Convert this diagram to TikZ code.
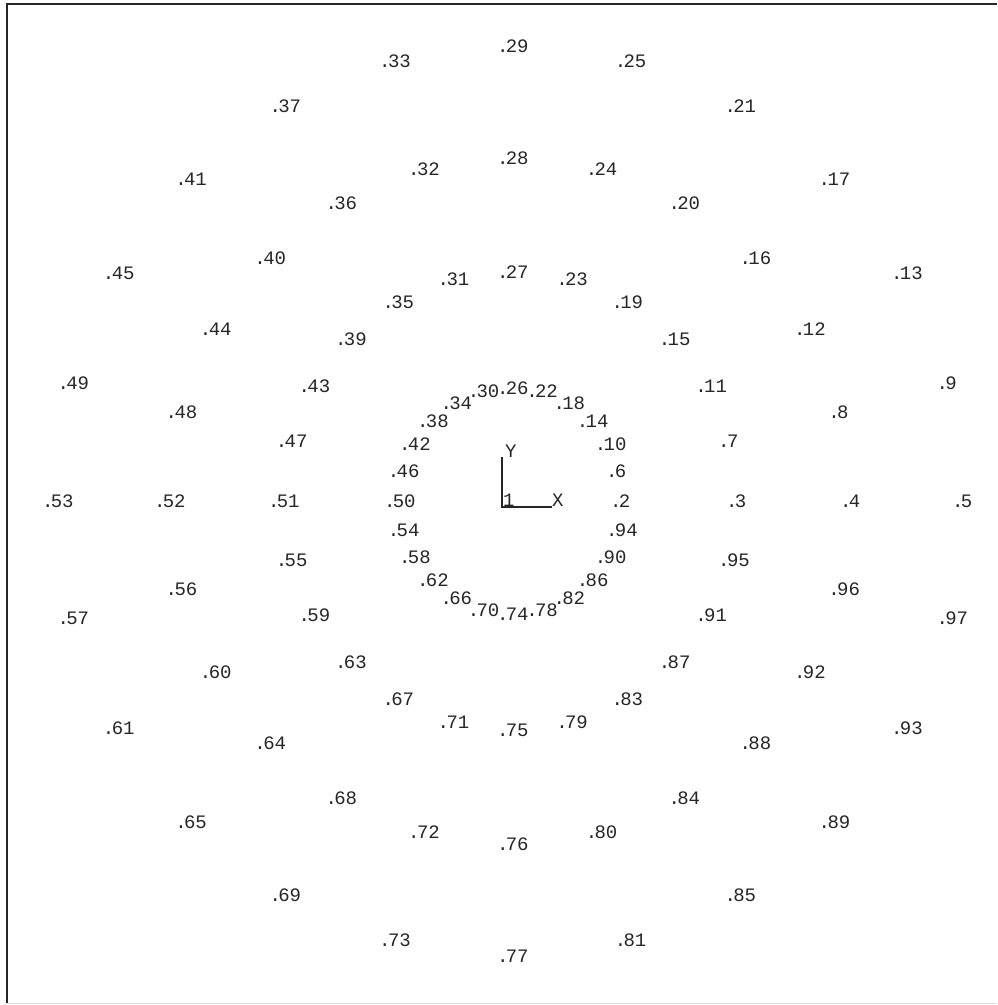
\documentclass[tikz,border=0pt]{standalone}
\usepackage{fontspec}
\newfontfamily\lblfont{Liberation Mono}
\begin{document}
\begin{tikzpicture}[x=1pt,y=-1pt,
  lbl/.style={font=\fontsize{19}{19}\selectfont\lblfont, anchor=base west, inner sep=0pt, text=black!85},
  frameline/.style={line width=2.4pt, black!85},
  axisline/.style={line width=1.6pt, black!85}]
\useasboundingbox (0,0) rectangle (997,1005);
\fill[white] (0,0) rectangle (997,1005);
% frame
\draw[frameline] (7,1003) -- (7,4) -- (997,4);
\draw[line width=1pt, black!12] (7,1003) -- (997,1003);
% centre node and axes
\coordinate (p1) at (502,507);
\coordinate (ytip) at (502,457);
\coordinate (xtip) at (552,507);
\draw[axisline] (ytip) -- (p1) -- (xtip);
\node[lbl] (n1) at (503,506) {1};
\node[lbl] (ylab) at (505,457) {Y};
\node[lbl] (xlab) at (552,506) {X};
% numbered nodes on four rings
\foreach \k in {2,...,97}{
  \pgfmathtruncatemacro\ring{mod(\k-2,4)}
  \pgfmathtruncatemacro\ang{div(\k-2,4)*15}
  \pgfmathsetmacro\rad{{113,229,343,455}[\ring]}
  \coordinate (p\k) at ({502+\rad*cos(\ang)},{507-\rad*sin(\ang)});
  \node[lbl, xshift=-5.2pt] (n\k) at (p\k) {.\kern-2.6pt\k};
}
\end{tikzpicture}
\end{document}
